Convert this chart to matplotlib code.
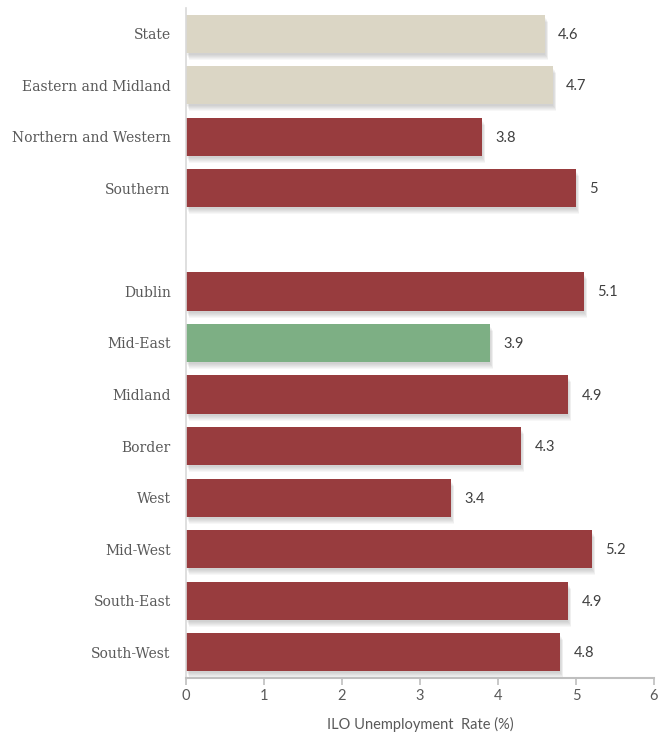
import matplotlib
matplotlib.use("Agg")
import matplotlib.pyplot as plt
import matplotlib.transforms as mtransforms
import numpy as np

# Regional ILO unemployment rates (%), top to bottom; empty string = spacer row
regions = ["State", "Eastern and Midland", "Northern and Western", "Southern", "",
           "Dublin", "Mid-East", "Midland", "Border", "West", "Mid-West",
           "South-East", "South-West"]
rates = [4.6, 4.7, 3.8, 5.0, None, 5.1, 3.9, 4.9, 4.3, 3.4, 5.2, 4.9, 4.8]
rate_labels = ["4.6", "4.7", "3.8", "5", "", "5.1", "3.9", "4.9", "4.3", "3.4", "5.2", "4.9", "4.8"]
groups = ["ref", "ref", "reg", "reg", None, "reg", "low", "reg", "reg", "reg", "reg", "reg", "reg"]
x_ticks = [0, 1, 2, 3, 4, 5, 6]

palette = {"ref": "#DBD6C5", "reg": "#983C3E", "low": "#7DAF84"}

fig = plt.figure(figsize=(6.61, 7.32), dpi=100)
ax = fig.add_axes([186 / 661, 1 - 678 / 732, (654 - 186) / 661, (678 - 8) / 732])

ypos = np.arange(len(regions))
bar_h = 0.74

for y, v, g, lab in zip(ypos, rates, groups, rate_labels):
    if v is None:
        continue
    # soft drop shadow built from stacked translucent copies
    for dx, dy in [(0, -2), (1, -3), (2, -4), (2, -5), (3, -6), (3, -7)]:
        off = mtransforms.offset_copy(ax.transData, fig=fig, x=dx, y=dy, units="dots")
        ax.barh(y, v, height=bar_h, color="#000000", alpha=0.03, transform=off,
                linewidth=0, zorder=1)
    ax.barh(y, v, height=bar_h, color=palette[g], linewidth=0, zorder=2)
    ax.text(v + 0.17, y + 0.02, lab, va="center", ha="left", fontsize=10.5,
            family="Lato", color="#404040", zorder=3)

ax.set_xlim(0, 6)
ax.set_ylim(12.5, -0.5)
ax.set_yticks(ypos)
ax.set_yticklabels(regions, family="DejaVu Serif", fontsize=10, color="#595959")
ax.tick_params(axis="y", length=0, pad=11)
ax.set_xticks(x_ticks)
ax.set_xticklabels([str(t) for t in x_ticks], family="Lato", fontsize=10.5, color="#595959")
ax.tick_params(axis="x", length=5, color="#BFBFBF", width=1.2, pad=3)

for s in ["top", "right"]:
    ax.spines[s].set_visible(False)
ax.spines["left"].set_color("#D9D9D9")
ax.spines["left"].set_linewidth(1.2)
ax.spines["bottom"].set_color("#BFBFBF")
ax.spines["bottom"].set_linewidth(1.5)

ax.set_xlabel("ILO Unemployment  Rate (%)", family="Lato", fontsize=10.5,
              color="#595959", labelpad=10)

fig.savefig("out.png", dpi=100, facecolor="white")
